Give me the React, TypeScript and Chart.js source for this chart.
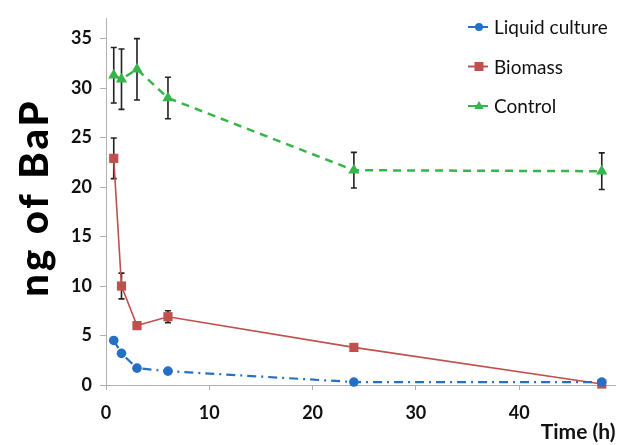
import React, { useEffect, useRef } from "react";
import { Chart, registerables } from "chart.js";

Chart.register(...registerables);

const timeHours = [0.75, 1.5, 3, 6, 24, 48];
const liquidCulture = [4.5, 3.2, 1.7, 1.4, 0.3, 0.3];
const biomass = [22.9, 10.0, 6.0, 6.9, 3.8, 0.1];
const control = [31.3, 30.9, 31.9, 29.0, 21.7, 21.6];
const liquidCultureErr = [0, 0, 0, 0, 0, 0];
const biomassErr = [2.05, 1.3, 0.3, 0.6, 0.2, 0.1];
const controlErr = [2.8, 3.05, 3.1, 2.1, 1.8, 1.85];
const xTickValues = [0, 10, 20, 30, 40];
const yTickValues = [0, 5, 10, 15, 20, 25, 30, 35];
const seriesLabels = ["Liquid culture", "Biomass", "Control"];
const yAxisTitle = "ng of BaP";
const xAxisTitle = "Time (h)";

const FAMILY = "Lato, 'Open Sans', sans-serif";
const BLUE = "#2570c4";
const RED = "#c0504d";
const GREEN = "#36b54a";

function drawMarker(ctx: CanvasRenderingContext2D, style: string, x: number, y: number, r: number, color: string) {
  ctx.fillStyle = color;
  ctx.beginPath();
  if (style === "circle") {
    ctx.arc(x, y, r, 0, Math.PI * 2);
  } else if (style === "rect") {
    ctx.rect(x - r, y - r, 2 * r, 2 * r);
  } else {
    ctx.moveTo(x, y - r);
    ctx.lineTo(x + r * 0.95, y + r * 0.6);
    ctx.lineTo(x - r * 0.95, y + r * 0.6);
    ctx.closePath();
  }
  ctx.fill();
}

const errorBarPlugin = {
  id: "errorBars",
  beforeDatasetsDraw(chart: any) {
    const { ctx } = chart;
    const xs = chart.scales.x;
    const ys = chart.scales.y;
    ctx.save();
    ctx.strokeStyle = "#222";
    ctx.lineWidth = 1.6;
    chart.data.datasets.forEach((ds: any) => {
      const errs: number[] = ds.errors || [];
      ds.data.forEach((p: any, i: number) => {
        const e = errs[i];
        if (!e) return;
        const px = xs.getPixelForValue(p.x);
        const yt = ys.getPixelForValue(p.y + e);
        const yb = ys.getPixelForValue(p.y - e);
        ctx.beginPath();
        ctx.moveTo(px, yt);
        ctx.lineTo(px, yb);
        ctx.moveTo(px - 3, yt);
        ctx.lineTo(px + 3, yt);
        ctx.moveTo(px - 3, yb);
        ctx.lineTo(px + 3, yb);
        ctx.stroke();
      });
    });
    ctx.restore();
  },
};

const legendAndTitlePlugin = {
  id: "legendAndTitle",
  afterDraw(chart: any) {
    const ctx: CanvasRenderingContext2D = chart.ctx;
    ctx.save();
    const styles = ["circle", "rect", "triangle"];
    const sizes = [4, 4.5, 5];
    chart.data.datasets.forEach((ds: any, i: number) => {
      const y = 27 + i * 39.5;
      ctx.strokeStyle = ds.borderColor;
      ctx.lineWidth = 2;
      ctx.setLineDash([]);
      ctx.beginPath();
      ctx.moveTo(468, y);
      ctx.lineTo(488, y);
      ctx.stroke();
      drawMarker(ctx, styles[i], 479, y, sizes[i], ds.borderColor);
      ctx.fillStyle = "#111";
      ctx.font = `19px ${FAMILY}`;
      ctx.textBaseline = "middle";
      ctx.textAlign = "left";
      ctx.fillText(ds.label, 494, y + 1);
    });
    // y-axis title
    ctx.translate(35, 199);
    ctx.rotate(-Math.PI / 2);
    ctx.font = `900 40px ${FAMILY}`;
    (ctx as any).letterSpacing = "3px";
    ctx.textAlign = "center";
    ctx.textBaseline = "middle";
    ctx.fillStyle = "#000";
    ctx.fillText(yAxisTitle, 1.5, 0);
    ctx.restore();
  },
};

export default function App() {
  const ref = useRef<HTMLCanvasElement | null>(null);
  useEffect(() => {
    if (!ref.current) return;
    const mk = (vals: number[]) => timeHours.map((t, i) => ({ x: t, y: vals[i] }));
    const chart = new Chart(ref.current, {
      type: "line",
      data: {
        datasets: [
          {
            label: seriesLabels[0],
            data: mk(liquidCulture),
            errors: liquidCultureErr,
            borderColor: BLUE,
            backgroundColor: BLUE,
            borderWidth: 2.2,
            borderDash: [9, 5, 2, 5],
            pointStyle: "circle",
            pointRadius: 4.8,
            pointBorderWidth: 0,
            clip: false,
          } as any,
          {
            label: seriesLabels[1],
            data: mk(biomass),
            errors: biomassErr,
            borderColor: RED,
            backgroundColor: RED,
            borderWidth: 1.6,
            pointStyle: "rect",
            pointRadius: 6.5,
            pointBorderWidth: 0,
            clip: false,
          } as any,
          {
            label: seriesLabels[2],
            data: mk(control),
            errors: controlErr,
            borderColor: GREEN,
            backgroundColor: GREEN,
            borderWidth: 2.5,
            borderDash: [8, 6],
            pointStyle: "triangle",
            pointRadius: 6.5,
            pointBorderWidth: 0,
            clip: false,
          } as any,
        ],
      },
      options: {
        responsive: false,
        animation: false,
        layout: { padding: { top: 13, left: 0, right: 0, bottom: 0 } },
        plugins: {
          legend: { display: false },
          tooltip: { enabled: false },
        },
        scales: {
          x: {
            type: "linear",
            min: 0,
            max: 49.33,
            afterBuildTicks: (s: any) => {
              s.ticks = xTickValues.map((v) => ({ value: v }));
            },
            afterFit: (s: any) => {
              s.height = 60;
            },
            grid: { display: true, drawOnChartArea: false, drawTicks: true, tickLength: 5, color: "#b0b0b0", lineWidth: 1 },
            border: { display: true, color: "#b0b0b0", width: 1 },
            ticks: { font: { family: FAMILY, size: 18, weight: "bold" }, color: "#111", padding: 12, maxRotation: 0 },
            title: {
              display: true,
              text: xAxisTitle,
              align: "end",
              font: { family: FAMILY, size: 21, weight: "bold" },
              color: "#111",
              padding: { top: 0, bottom: 0 },
            },
          },
          y: {
            type: "linear",
            min: 0,
            max: 37,
            afterBuildTicks: (s: any) => {
              s.ticks = yTickValues.map((v) => ({ value: v }));
            },
            afterFit: (s: any) => {
              s.width = 106;
            },
            grid: { display: true, drawOnChartArea: false, drawTicks: true, tickLength: 6, color: "#b0b0b0", lineWidth: 1 },
            border: { display: true, color: "#b0b0b0", width: 1 },
            ticks: { font: { family: FAMILY, size: 18, weight: "bold" }, color: "#111", padding: 8 },
          },
        },
      } as any,
      plugins: [errorBarPlugin, legendAndTitlePlugin],
    });
    return () => chart.destroy();
  }, []);
  return (
    <div style={{ position: "fixed", left: 0, top: 0, width: 622, height: 445, overflow: "hidden", background: "#fff" }}>
      <canvas ref={ref} width={622} height={445} style={{ display: "block", width: 622, height: 445 }} />
    </div>
  );
}
